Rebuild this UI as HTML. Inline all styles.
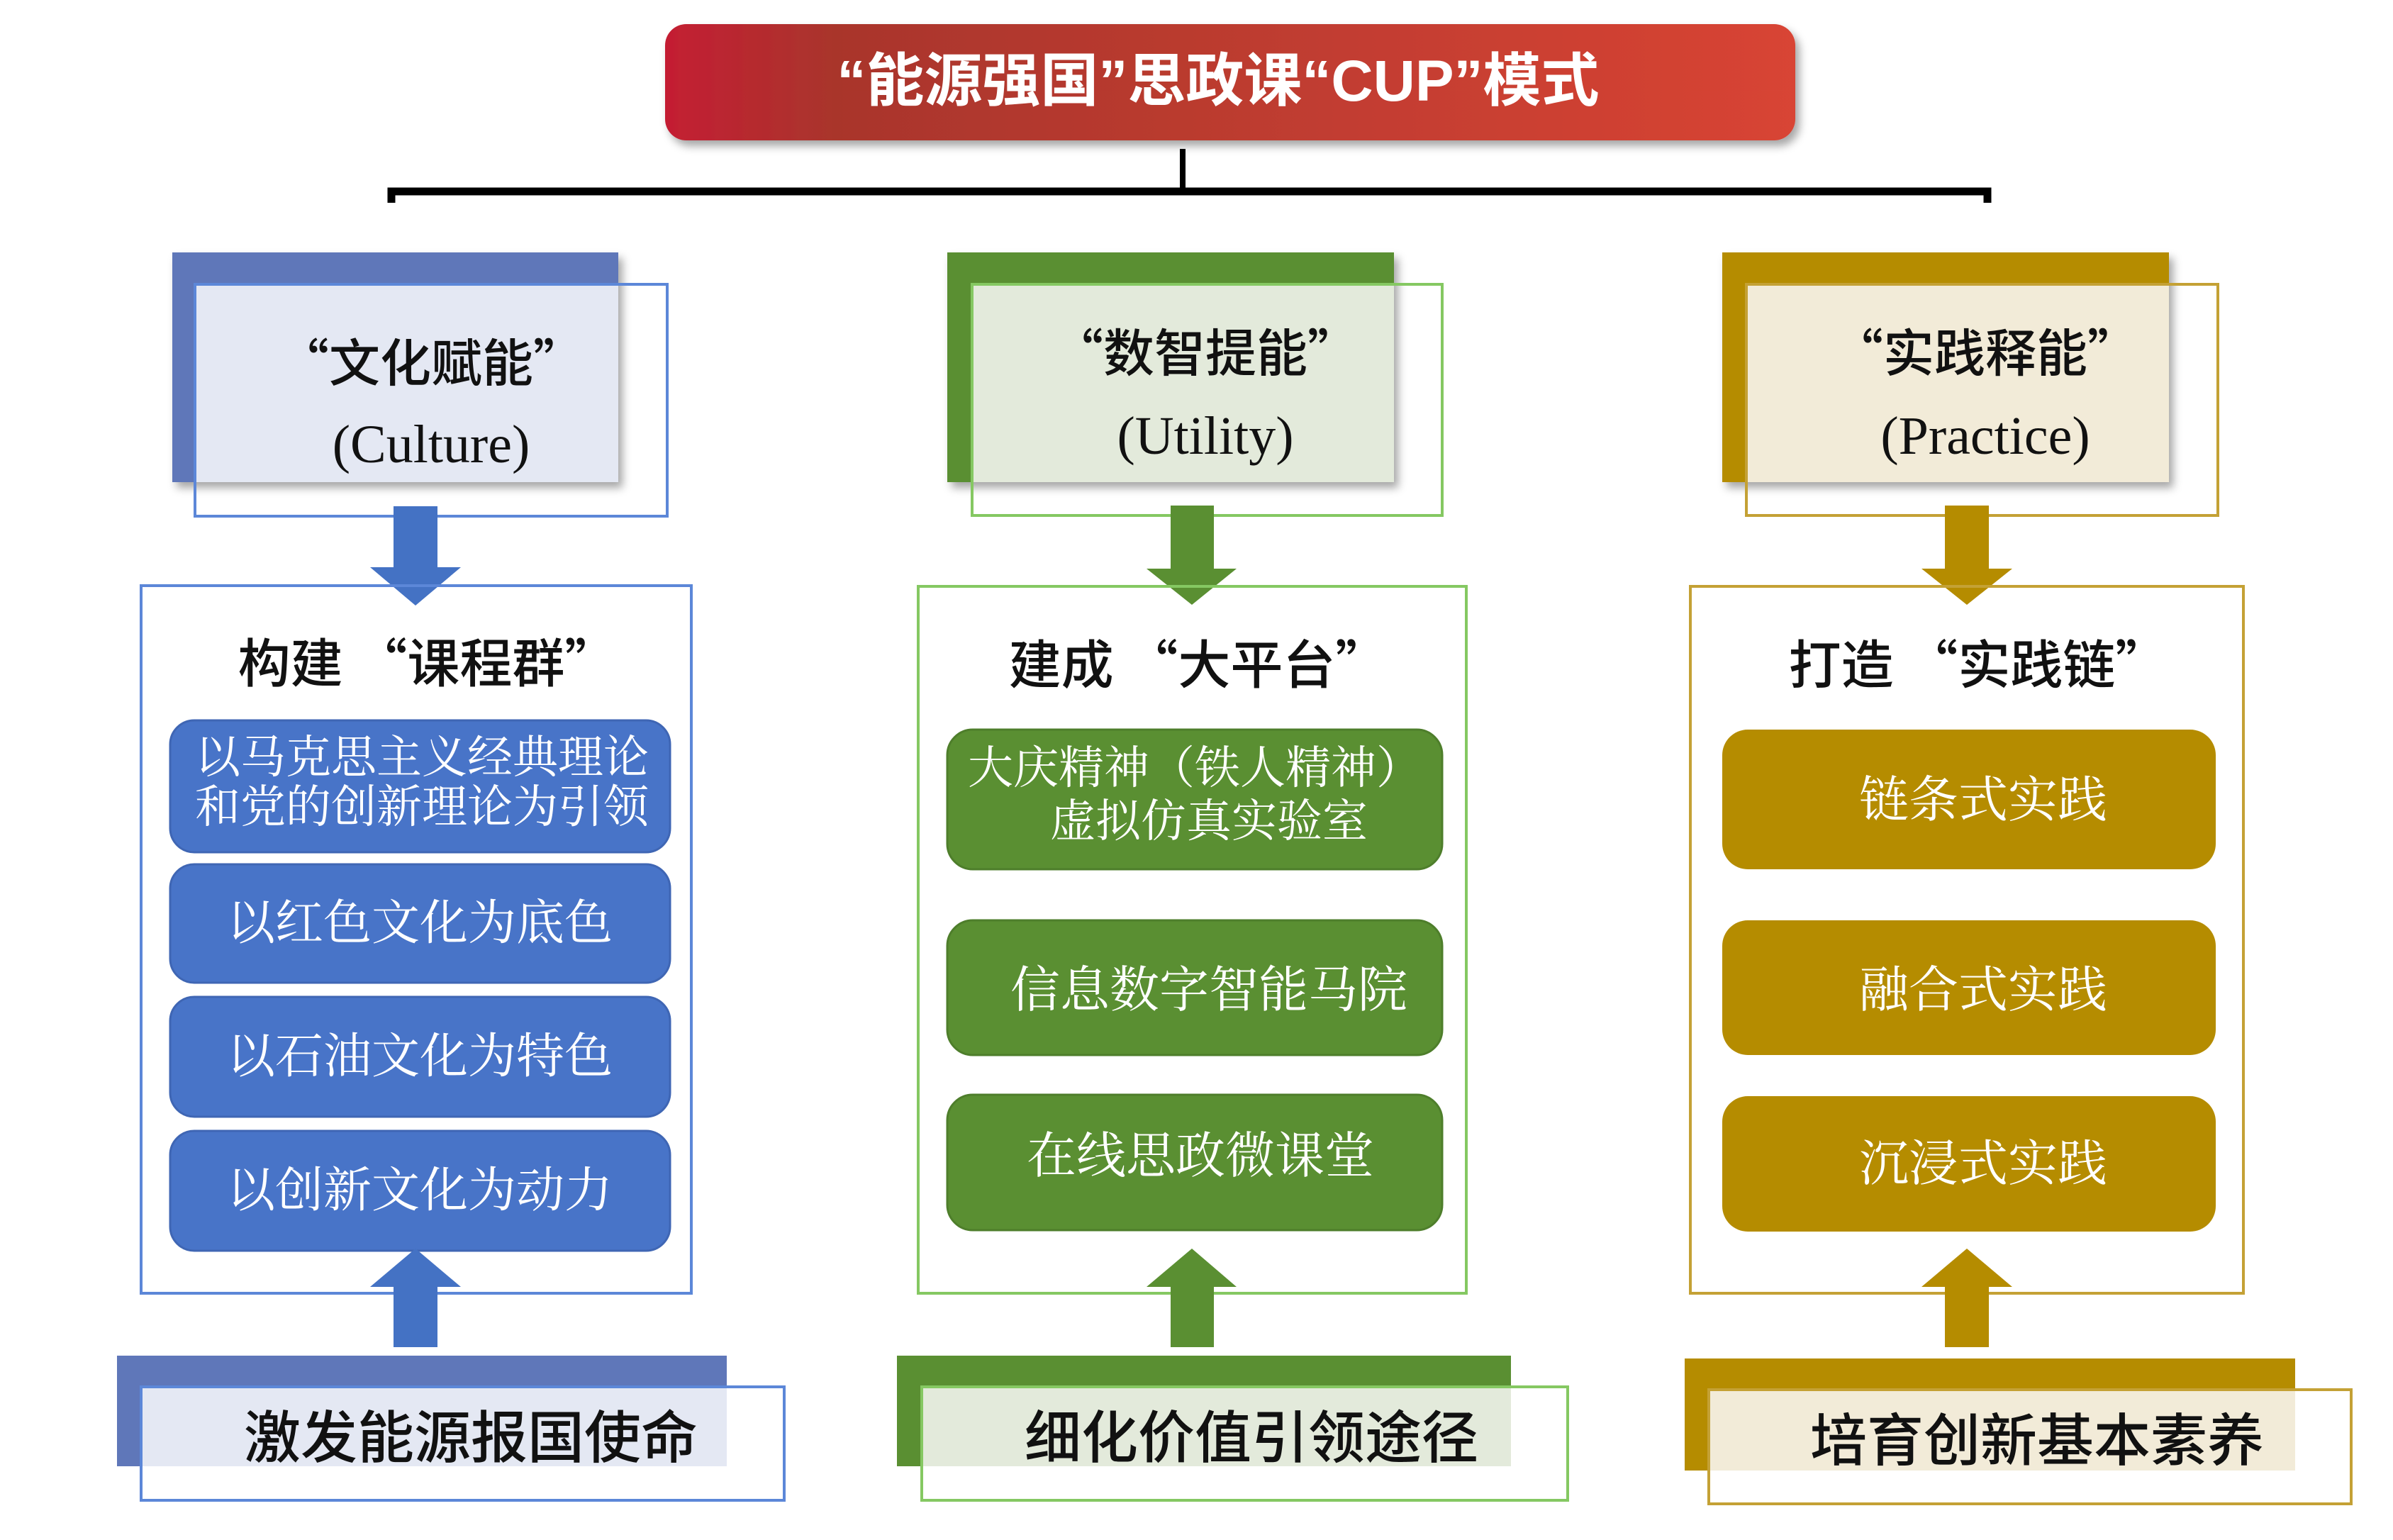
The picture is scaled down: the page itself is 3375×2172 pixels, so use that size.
<!DOCTYPE html>
<html><head><meta charset="utf-8"><style>
html,body{margin:0;padding:0;background:#fff;}
svg{display:block}
.t{font-family:"Liberation Serif","Noto Serif CJK SC",serif;fill:#111;text-anchor:middle;}
.h{font-family:"Noto Sans CJK SC",sans-serif;fill:#111;text-anchor:middle;font-weight:500;}
.w{font-family:"Liberation Serif","Noto Serif CJK SC",serif;fill:#fff;text-anchor:middle;}
</style></head><body>
<svg width="3375" height="2172" viewBox="0 0 3375 2172" xmlns="http://www.w3.org/2000/svg">
<defs>
<linearGradient id="rg" x1="0" x2="1" y1="0" y2="0">
<stop offset="0" stop-color="#c41e32"/><stop offset="0.15" stop-color="#a9352c"/><stop offset="1" stop-color="#d84434"/>
</linearGradient>
<filter id="sh" x="-5%" y="-5%" width="115%" height="125%"><feDropShadow dx="6" dy="8" stdDeviation="6" flood-color="#000" flood-opacity="0.35"/></filter>
</defs>

<!-- header -->
<rect x="938" y="34" width="1594" height="164" rx="30" fill="url(#rg)" filter="url(#sh)"/>
<text x="1718" y="142" font-family="Liberation Sans,'Noto Sans CJK SC',sans-serif" font-size="82" font-weight="bold" fill="#fff" text-anchor="middle">“能源强国”思政课“CUP”模式</text>
<line x1="1668" y1="210" x2="1668" y2="270" stroke="#000" stroke-width="8"/>
<path d="M552 286 V270 H2803 V286" fill="none" stroke="#000" stroke-width="11"/>

<!-- LEFT -->
<rect x="243" y="356" width="629" height="324" fill="#5f77b9" filter="url(#sh)"/>
<rect x="275" y="401" width="597" height="279" fill="#e4e8f3"/>
<rect x="275" y="401" width="666" height="327" fill="none" stroke="#5c87d8" stroke-width="4"/>
<text class="h" x="608" y="538" font-size="72">“文化赋能”</text>
<text class="t" x="608" y="652" font-size="76">(Culture)</text>
<path d="M555 714 H617 V800 H650 L586 854 L522 800 H555 Z" fill="#4472c4"/>
<rect x="199" y="826" width="776" height="998" fill="none" stroke="#5c87d8" stroke-width="4"/>
<text class="h" x="603" y="962" font-size="74">构建 “课程群”</text>
<rect x="240" y="1016" width="705" height="186" rx="34" fill="#4874c8" stroke="#3f66b4" stroke-width="3"/>
<text class="w" x="595" y="1090" font-size="64">以马克思主义经典理论</text>
<text class="w" x="595" y="1160" font-size="64">和党的创新理论为引领</text>
<rect x="240" y="1219" width="705" height="167" rx="34" fill="#4874c8" stroke="#3f66b4" stroke-width="3"/>
<text class="w" x="592" y="1325" font-size="68">以红色文化为底色</text>
<rect x="240" y="1406" width="705" height="169" rx="34" fill="#4874c8" stroke="#3f66b4" stroke-width="3"/>
<text class="w" x="592" y="1513" font-size="68">以石油文化为特色</text>
<rect x="240" y="1595" width="705" height="169" rx="34" fill="#4874c8" stroke="#3f66b4" stroke-width="3"/>
<text class="w" x="592" y="1702" font-size="68">以创新文化为动力</text>
<path d="M555 1900 H617 V1815 H650 L586 1761 L522 1815 H555 Z" fill="#4472c4"/>
<rect x="165" y="1912" width="860" height="156" fill="#5f77b9"/>
<rect x="199" y="1956" width="826" height="112" fill="#e4e8f3"/>
<rect x="199" y="1956" width="907" height="160" fill="none" stroke="#5c87d8" stroke-width="4"/>
<text class="h" x="664" y="2056" font-size="80">激发能源报国使命</text>

<!-- MIDDLE -->
<rect x="1336" y="356" width="630" height="324" fill="#5a8f32" filter="url(#sh)"/>
<rect x="1371" y="401" width="595" height="279" fill="#e3eadb"/>
<rect x="1371" y="401" width="663" height="326" fill="none" stroke="#85c862" stroke-width="4"/>
<text class="h" x="1700" y="524" font-size="72">“数智提能”</text>
<text class="t" x="1700" y="640" font-size="76">(Utility)</text>
<path d="M1651 713 H1712 V802 H1744 L1681 853 L1617 802 H1651 Z" fill="#5a8f32"/>
<rect x="1295" y="827" width="773" height="997" fill="none" stroke="#85c862" stroke-width="4"/>
<text class="h" x="1690" y="964" font-size="74">建成 “大平台”</text>
<rect x="1336" y="1029" width="698" height="197" rx="36" fill="#5a8f32" stroke="#4e7e2b" stroke-width="3"/>
<text class="w" x="1685" y="1105" font-size="64">大庆精神（铁人精神）</text>
<text class="w" x="1705" y="1180" font-size="64">虚拟仿真实验室</text>
<rect x="1336" y="1298" width="698" height="190" rx="36" fill="#5a8f32" stroke="#4e7e2b" stroke-width="3"/>
<text class="w" x="1705" y="1420" font-size="70">信息数字智能马院</text>
<rect x="1336" y="1544" width="698" height="191" rx="36" fill="#5a8f32" stroke="#4e7e2b" stroke-width="3"/>
<text class="w" x="1693" y="1654" font-size="70">在线思政微课堂</text>
<path d="M1651 1900 H1712 V1815 H1744 L1681 1761 L1617 1815 H1651 Z" fill="#5a8f32"/>
<rect x="1265" y="1912" width="866" height="156" fill="#5a8f32"/>
<rect x="1300" y="1956" width="831" height="112" fill="#e3eadb"/>
<rect x="1300" y="1956" width="911" height="160" fill="none" stroke="#85c862" stroke-width="4"/>
<text class="h" x="1765" y="2056" font-size="80">细化价值引领途径</text>

<!-- RIGHT -->
<rect x="2429" y="356" width="630" height="324" fill="#b58c00" filter="url(#sh)"/>
<rect x="2463" y="401" width="596" height="279" fill="#f2ebd8"/>
<rect x="2463" y="401" width="665" height="326" fill="none" stroke="#c4a135" stroke-width="4"/>
<text class="h" x="2800" y="524" font-size="72">“实践释能”</text>
<text class="t" x="2800" y="640" font-size="76">(Practice)</text>
<path d="M2743 713 H2805 V802 H2838 L2774 853 L2710 802 H2743 Z" fill="#b58c00"/>
<rect x="2384" y="827" width="780" height="997" fill="none" stroke="#c4a135" stroke-width="4"/>
<text class="h" x="2790" y="964" font-size="74">打造 “实践链”</text>
<rect x="2429" y="1029" width="696" height="197" rx="36" fill="#b58c00"/>
<text class="w" x="2797" y="1152" font-size="70">链条式实践</text>
<rect x="2429" y="1298" width="696" height="190" rx="36" fill="#b58c00"/>
<text class="w" x="2797" y="1420" font-size="70">融合式实践</text>
<rect x="2429" y="1546" width="696" height="191" rx="36" fill="#b58c00"/>
<text class="w" x="2797" y="1665" font-size="70">沉浸式实践</text>
<path d="M2743 1900 H2805 V1815 H2838 L2774 1761 L2710 1815 H2743 Z" fill="#b58c00"/>
<rect x="2376" y="1916" width="861" height="158" fill="#b58c00"/>
<rect x="2410" y="1960" width="827" height="114" fill="#f2ebd8"/>
<rect x="2410" y="1960" width="906" height="161" fill="none" stroke="#c4a135" stroke-width="4"/>
<text class="h" x="2873" y="2060" font-size="80">培育创新基本素养</text>
</svg>
</body></html>
